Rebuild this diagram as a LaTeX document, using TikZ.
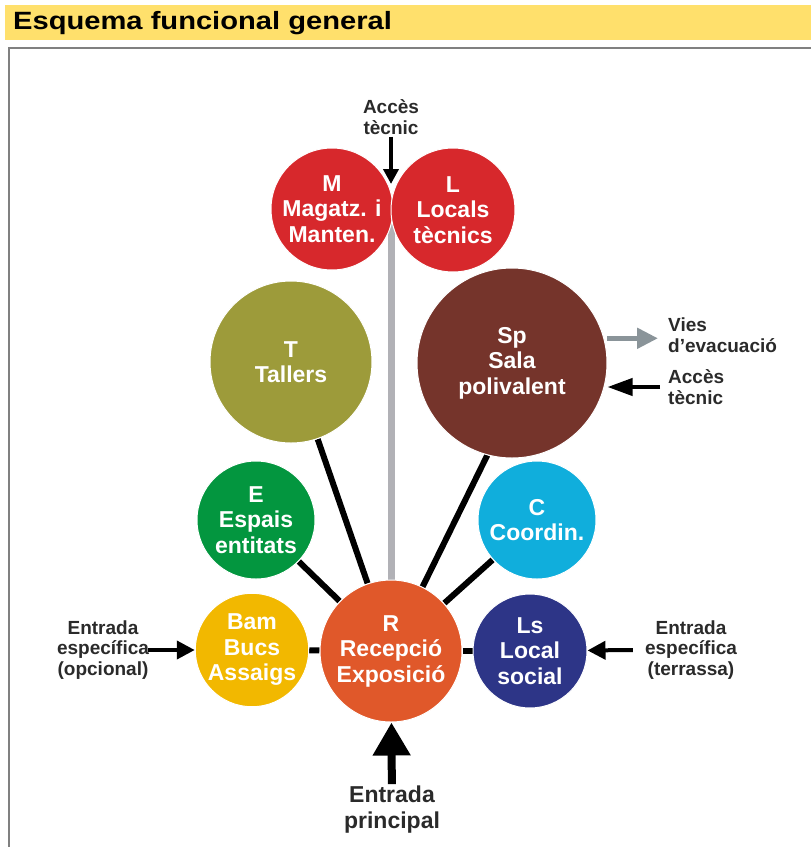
\documentclass[tikz,border=0pt]{standalone}
\usepackage{fontspec}
\setmainfont{Liberation Sans}
\usepackage{graphicx}
\usetikzlibrary{arrows.meta,backgrounds,positioning}

\definecolor{redML}{HTML}{D7282C}
\definecolor{oliveT}{HTML}{9D9B3A}
\definecolor{brownSp}{HTML}{75342B}
\definecolor{greenE}{HTML}{03963F}
\definecolor{cyanC}{HTML}{10AEDC}
\definecolor{orangeR}{HTML}{E0582A}
\definecolor{goldBam}{HTML}{F2B800}
\definecolor{navyLs}{HTML}{2D3587}
\definecolor{titlebar}{HTML}{FFE06C}
\definecolor{axisgray}{HTML}{B1B1B6}
\definecolor{evacgray}{HTML}{8A9499}
\definecolor{labelgray}{HTML}{2A2A2A}

\begin{document}
\begin{tikzpicture}[x=1pt,y=-1pt]
  \useasboundingbox (0,0) rectangle (811,847);
  % title bar and frame
  \fill[titlebar] (5,5) rectangle (811,40);
  \node (title) [anchor=base west,inner sep=0pt] at (13,29)
    {\bfseries\fontsize{25}{30}\selectfont\scalebox{1.165}[1]{Esquema funcional general}};
  \draw[gray,line width=2pt] (9,847) |- (811,48);

  \begin{scope}[every node/.style={circle,draw=white,line width=1pt,text=white,
      inner sep=0pt,align=center,font=\bfseries\fontsize{23}{25.5}\selectfont}]
    \node (R) [fill=orangeR,minimum size=142pt] at (391,651) {R\\Recepció\\Exposició};
    \node (Bam) [fill=goldBam,minimum size=113pt] at (252,650) {Bam\\Bucs\\Assaigs};
    \node (Ls) [fill=navyLs,minimum size=114pt] at (530,651) {Ls\\Local\\social};
    \node (E) [fill=greenE,minimum size=118pt] at (256,520) {E\\Espais\\entitats};
    \node (C) [fill=cyanC,minimum size=118pt] at (537,520) {C\\Coordin.};
    \node (T) [fill=oliveT,minimum size=162pt] at (291,362) {T\\Tallers};
    \node (Sp) [fill=brownSp,minimum size=190pt] at (512,363) {Sp\\Sala\\polivalent};
    \node (M) [fill=redML,minimum size=122pt] at (332,209) {M\\Magatz. i\\Manten.};
    \node (L) [fill=redML,minimum size=124pt] at (453,210) {L\\Locals\\tècnics};
  \end{scope}

  \begin{scope}[on background layer,every edge/.style={draw=black,line width=6pt}]
    \draw[axisgray,line width=7pt] (R.center) -- (R.center |- M.east);
    \path (R) edge (Bam);
    \path (R) edge (Ls);
    \path (R) edge (E);
    \path (R) edge (C);
    \path (R) edge (T);
    \path (R.center) edge (Sp.-105);
  \end{scope}

  \begin{scope}[every node/.style={text=labelgray,inner sep=2pt,
      font=\bfseries\fontsize{19}{20.5}\selectfont}]
    \node (accTop) [align=center] at (391,117) {Accès\\tècnic};
    \node (evac) [anchor=west,align=left] at (666,335) {Vies\\d'evacuació};
    \node (accSp) [anchor=west,align=left] at (666,387) {Accès\\tècnic};
    \node (entOp) [align=center] at (103,650) {Entrada\\específica\\(opcional)};
    \node (entTe) [align=center] at (691,650) {Entrada\\específica\\(terrassa)};
    \node (entPr) [align=center,font=\bfseries\fontsize{23}{26}\selectfont] at (392,810) {Entrada\\principal};
  \end{scope}
  \coordinate (accTopTip) at (391,184);

  \draw[-{Triangle[length=15pt,width=15pt]},line width=4pt] (accTop) -- (accTopTip);
  \draw[evacgray,-{Triangle[length=21pt,width=20pt]},line width=5pt,shorten <=3pt,shorten >=8pt]
    (Sp.15) -- (Sp.15 -| evac.west);
  \draw[-{Triangle[length=25pt,width=17pt]},line width=4pt,shorten <=6pt]
    (accSp.west) -- (accSp.west -| Sp.east);
  \draw[-{Triangle[length=18pt,width=18pt]},line width=4pt] ([xshift=-3pt]entOp.east) -- (Bam);
  \draw[-{Triangle[length=18pt,width=18pt]},line width=4pt] ([xshift=-10pt]entTe.west) -- (Ls);
  \draw[-{Triangle[length=33pt,width=36pt]},line width=8pt] (entPr) -- (R);
\end{tikzpicture}
\end{document}
